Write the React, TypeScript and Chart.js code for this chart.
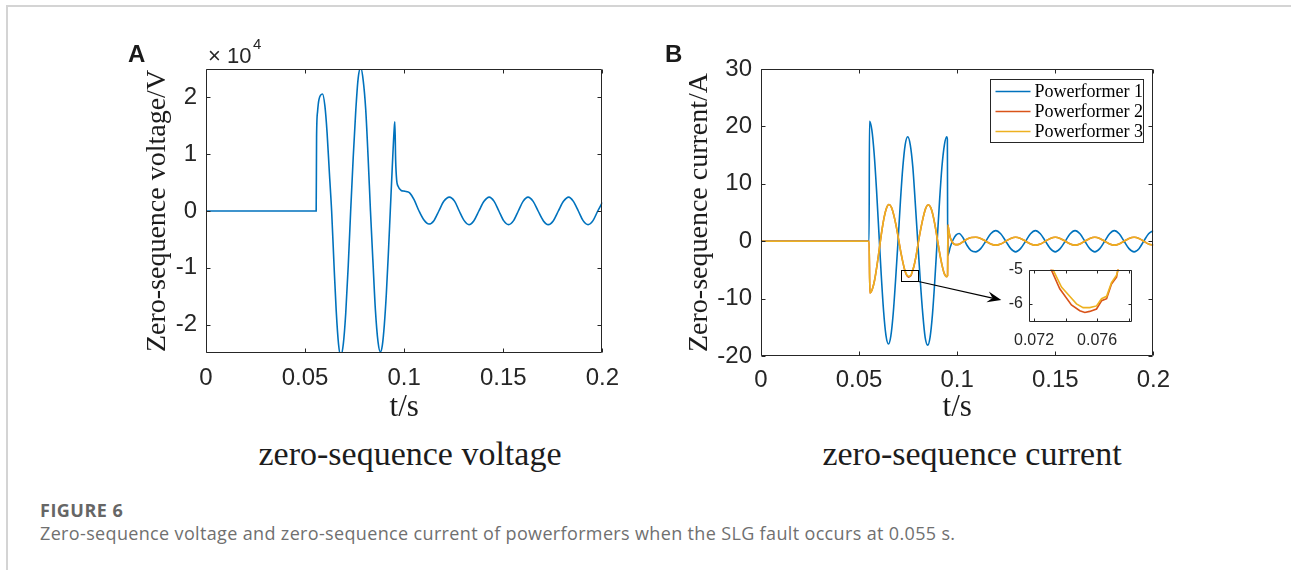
import React, { useEffect, useRef } from 'react';
import { Chart, registerables } from 'chart.js';

Chart.register(...registerables);

// ---------------- Panel A: zero-sequence voltage (V) ----------------
const tVoltage = [
  0, 0.0556, 0.0558, 0.0563, 0.0570, 0.0588, 0.0600, 0.0611, 0.0623, 0.0634, 0.0646, 0.0657, 0.0669, 0.0680,
  0.0693, 0.0705, 0.0718, 0.0730, 0.0743, 0.0756, 0.0768, 0.0781,
  0.0793, 0.0806, 0.0818, 0.0830, 0.0843, 0.0855, 0.0868, 0.0880,
  0.0890, 0.0900, 0.0910, 0.0920, 0.0930, 0.0940, 0.0950, 0.0953,
  0.0957, 0.0962, 0.0970, 0.0985, 0.1000, 0.1015, 0.1030, 0.1050, 0.1075, 0.1100, 0.1125,
  0.1150, 0.1175, 0.1200, 0.1228, 0.1255, 0.1278, 0.1303, 0.1327,
  0.1352, 0.1377, 0.1403, 0.1429, 0.1454, 0.1478, 0.1502, 0.1527,
  0.1552, 0.1576, 0.1600, 0.1625, 0.1651, 0.1676, 0.1702, 0.1727,
  0.1753, 0.1778, 0.1804, 0.1830, 0.1854, 0.1879, 0.1903, 0.1928,
  0.1953, 0.1977, 0.2000,
];
const voltage = [
  0, 0, 13000, 17500, 19600, 20600, 18500, 13800, 6500, 0, -9500, -17500, -23500, -25500,
  -23400, -18100, -9500, 0, 9500, 17800, 23400, 25200,
  23100, 17900, 9500, 0, -9300, -17500, -23000, -24800,
  -23600, -20000, -14600, -7700, 0, 7700, 14600, 15700,
  9000, 5500, 4300, 3600, 3500, 3400, 3100, 2000, 0, -1600, -2300,
  -1700, 0, 1700, 2450, 1700, 0, -1700, -2400,
  -1700, 0, 1700, 2450, 1700, 0, -1700, -2400,
  -1700, 0, 1700, 2450, 1700, 0, -1700, -2400,
  -1700, 0, 1700, 2450, 1700, 0, -1700, -2400,
  -1700, 0, 1500,
];

// ---------------- Panel B: zero-sequence current (A) ----------------
const tPf1 = [
  0, 0.0551, 0.0553, 0.0565, 0.0577, 0.0589, 0.0601, 0.0613, 0.0625, 0.0637, 0.0650,
  0.0662, 0.0674, 0.0686, 0.0699, 0.0711, 0.0723, 0.0735, 0.0748,
  0.0761, 0.0774, 0.0786, 0.0799, 0.0812, 0.0825, 0.0837, 0.0850,
  0.0862, 0.0874, 0.0886, 0.0898, 0.0910, 0.0922, 0.0935, 0.0947, 0.0950, 0.0952,
  0.0965, 0.0980, 0.0995, 0.1010, 0.1030, 0.1050, 0.1070, 0.1095,
  0.1120, 0.1146, 0.1171, 0.1197, 0.1222, 0.1248, 0.1273, 0.1298,
  0.1323, 0.1349, 0.1374, 0.1399, 0.1424, 0.1450, 0.1475, 0.1500,
  0.1525, 0.1551, 0.1576, 0.1601, 0.1626, 0.1651, 0.1676, 0.1702,
  0.1727, 0.1752, 0.1777, 0.1801, 0.1826, 0.1851, 0.1876, 0.1902,
  0.1927, 0.1951, 0.1976, 0.2000,
];
const currentPf1 = [
  0, 0, 20.9, 19.4, 15.2, 8.9, 1.5, -5.9, -12.2, -16.4, -17.9,
  -16.5, -12.6, -6.8, 0.2, 7.1, 12.9, 16.8, 18.2,
  16.8, 12.9, 6.9, 0.0, -6.9, -12.8, -16.8, -18.1,
  -16.7, -12.8, -6.9, 0.0, 6.9, 12.8, 16.8, 18.2, 17.8, -2.5,
  -1.0, 0.3, 1.1, 1.35, 0.6, -0.7, -1.6, -1.86,
  -1.3, 0, 1.3, 1.85, 1.3, 0, -1.3, -1.86,
  -1.3, 0, 1.3, 1.85, 1.3, 0, -1.3, -1.86,
  -1.3, 0, 1.3, 1.85, 1.3, 0, -1.3, -1.86,
  -1.3, 0, 1.3, 1.85, 1.3, 0, -1.3, -1.86,
  -1.3, 0, 1.3, 1.85,
];
const tPf23 = [
  0, 0.0551, 0.0555, 0.0567, 0.0579, 0.0591, 0.0603, 0.0616, 0.0628, 0.0640, 0.0652,
  0.0665, 0.0677, 0.0690, 0.0702, 0.0715, 0.0727, 0.0733, 0.0740, 0.0746, 0.0753, 0.0760, 0.0766, 0.0773, 0.0779,
  0.0791, 0.0803, 0.0816, 0.0829, 0.0841, 0.0854,
  0.0866, 0.0877, 0.0889, 0.0900, 0.0912, 0.0924, 0.0935, 0.0947, 0.0951, 0.0953,
  0.0958, 0.0965, 0.0978, 0.0992, 0.1008, 0.1030, 0.1050, 0.1072, 0.1095,
  0.1120, 0.1146, 0.1171, 0.1197, 0.1222, 0.1248, 0.1273, 0.1298,
  0.1323, 0.1349, 0.1374, 0.1399, 0.1424, 0.1450, 0.1475, 0.1500,
  0.1525, 0.1551, 0.1576, 0.1601, 0.1626, 0.1651, 0.1676, 0.1702,
  0.1727, 0.1752, 0.1777, 0.1801, 0.1826, 0.1851, 0.1876, 0.1902,
  0.1927, 0.1951, 0.1976, 0.2000,
];
const currentPf2 = [
  0, 0, -9.0, -8.4, -6.8, -4.3, -1.4, 1.8, 4.2, 5.8, 6.4,
  5.9, 4.55, 2.5, 0.2, -2.3, -4.25, -5.05, -5.75, -6.1, -6.25, -6.15, -5.88, -5.1, -4.45,
  -2.5, 0.0, 2.4, 4.45, 5.85, 6.35,
  5.8, 4.5, 2.4, 0.1, -2.3, -4.35, -5.7, -6.2, -6.0, 2.8,
  1.7, 0.6, -0.3, -0.6, -0.55, -0.1, 0.35, 0.65, 0.68,
  0.48, 0, -0.48, -0.68, -0.48, 0, 0.48, 0.68,
  0.48, 0, -0.48, -0.68, -0.48, 0, 0.48, 0.68,
  0.48, 0, -0.48, -0.68, -0.48, 0, 0.48, 0.68,
  0.48, 0, -0.48, -0.68, -0.48, 0, 0.48, 0.68,
  0.48, 0, -0.48, -0.68,
];
const currentPf3 = [
  0, 0, -9.0, -8.4, -6.8, -4.3, -1.4, 1.8, 4.2, 5.8, 6.4,
  5.9, 4.55, 2.5, 0.2, -2.3, -4.2, -5.0, -5.65, -5.98, -6.11, -6.06, -5.8, -5.02, -4.4,
  -2.5, 0.0, 2.4, 4.45, 5.85, 6.35,
  5.8, 4.5, 2.4, 0.1, -2.3, -4.35, -5.7, -6.2, -6.0, 2.8,
  1.7, 0.6, -0.3, -0.6, -0.55, -0.1, 0.35, 0.65, 0.68,
  0.48, 0, -0.48, -0.68, -0.48, 0, 0.48, 0.68,
  0.48, 0, -0.48, -0.68, -0.48, 0, 0.48, 0.68,
  0.48, 0, -0.48, -0.68, -0.48, 0, 0.48, 0.68,
  0.48, 0, -0.48, -0.68, -0.48, 0, 0.48, 0.68,
  0.48, 0, -0.48, -0.68,
];

// ---------------- Inset (zoom of the trough near t = 0.075 s) ----------------
const tInsetPf2 = [0.0729, 0.07309, 0.07363, 0.07437, 0.07490, 0.07522, 0.07553, 0.07596, 0.07628, 0.07660, 0.07691, 0.07723, 0.07740];
const insetPf2 = [-4.75, -5.0, -5.56, -6.03, -6.2, -6.25, -6.22, -6.15, -5.91, -5.85, -5.42, -5.22, -4.8];
const tInsetPf3 = [0.0730, 0.07320, 0.07374, 0.07426, 0.07469, 0.07511, 0.07553, 0.07596, 0.07628, 0.07660, 0.07691, 0.07723, 0.07745];
const insetPf3 = [-4.75, -5.0, -5.51, -5.78, -6.0, -6.11, -6.11, -6.06, -5.85, -5.78, -5.38, -5.16, -4.8];

// ---------------- Ticks, labels, annotations ----------------
const xTicks = [0, 0.05, 0.1, 0.15, 0.2];
const voltageTicks = [-20000, -10000, 0, 10000, 20000];
const currentTicks = [-20, -10, 0, 10, 20, 30];
const insetXTicks = [0.072, 0.074, 0.076, 0.078];
const insetXLabels = ['0.072', '', '0.076', ''];
const insetYTicks = [-6, -5];
const seriesNames = ['Powerformer 1', 'Powerformer 2', 'Powerformer 3'];
const seriesColors = ['#0072BD', '#D95319', '#EDB120'];
const zoomBoxT = [0.0713, 0.0799];
const zoomBoxI = [-6.85, -5.05];
const arrowTip = [0.1225, -10.25];

const SANS = "'Liberation Sans', Arial, Helvetica, sans-serif";
const SERIF = "'Liberation Serif', 'Times New Roman', Times, serif";
const AX = '#262626';

const pairs = (t: number[], v: number[]) => t.map((x, i) => ({ x, y: v[i] }));

const matlabBox = {
  id: 'matlabBox',
  beforeDraw(chart: any, _a: any, opts: any) {
    if (!opts.fill) return;
    const { ctx, chartArea: ca } = chart;
    ctx.save();
    ctx.fillStyle = opts.fill;
    ctx.fillRect(ca.left, ca.top, ca.right - ca.left, ca.bottom - ca.top);
    ctx.restore();
  },
  afterDatasetsDraw(chart: any, _a: any, opts: any) {
    const { ctx, chartArea: ca, scales } = chart;
    const len = opts.tickLength || 4;
    const L = Math.round(ca.left) + 0.5;
    const R = Math.round(ca.right) - 0.5;
    const T = Math.round(ca.top) + 0.5;
    const B = Math.round(ca.bottom) - 0.5;
    ctx.save();
    ctx.strokeStyle = AX;
    ctx.lineWidth = 1;
    ctx.beginPath();
    ctx.rect(L, T, R - L, B - T);
    for (const t of scales.x.ticks) {
      const p = Math.round(scales.x.getPixelForValue(t.value)) + 0.5;
      ctx.moveTo(p, B); ctx.lineTo(p, B - len);
      ctx.moveTo(p, T); ctx.lineTo(p, T + len);
    }
    for (const t of scales.y.ticks) {
      const p = Math.round(scales.y.getPixelForValue(t.value)) + 0.5;
      ctx.moveTo(L, p); ctx.lineTo(L + len, p);
      ctx.moveTo(R, p); ctx.lineTo(R - len, p);
    }
    ctx.stroke();
    ctx.restore();
  },
};

const zoomMarker = {
  id: 'zoomMarker',
  afterDatasetsDraw(chart: any) {
    const { ctx, scales: { x, y } } = chart;
    const x0 = Math.round(x.getPixelForValue(zoomBoxT[0])) + 0.5;
    const x1 = Math.round(x.getPixelForValue(zoomBoxT[1])) + 0.5;
    const y0 = Math.round(y.getPixelForValue(zoomBoxI[1])) + 0.5;
    const y1 = Math.round(y.getPixelForValue(zoomBoxI[0])) + 0.5;
    ctx.save();
    ctx.strokeStyle = '#000';
    ctx.lineWidth = 1;
    ctx.strokeRect(x0, y0, x1 - x0, y1 - y0);
    const tx = x.getPixelForValue(arrowTip[0]);
    const ty = y.getPixelForValue(arrowTip[1]);
    const ang = Math.atan2(ty - y1, tx - x1);
    const c = Math.cos(ang), s = Math.sin(ang);
    const hl = 14, hw = 5.5, notch = 9;
    ctx.lineWidth = 1.2;
    ctx.beginPath();
    ctx.moveTo(x1, y1);
    ctx.lineTo(tx - notch * c, ty - notch * s);
    ctx.stroke();
    ctx.fillStyle = '#000';
    ctx.beginPath();
    ctx.moveTo(tx, ty);
    ctx.lineTo(tx - hl * c - hw * s, ty - hl * s + hw * c);
    ctx.lineTo(tx - notch * c, ty - notch * s);
    ctx.lineTo(tx - hl * c + hw * s, ty - hl * s - hw * c);
    ctx.closePath();
    ctx.fill();
    ctx.restore();
  },
};

const boxLegend = {
  id: 'boxLegend',
  afterDatasetsDraw(chart: any) {
    const { ctx, chartArea: ca } = chart;
    const w = 153, h = 63;
    const left = Math.round(ca.right - 10 - w) + 0.5;
    const top = Math.round(ca.top + 10) + 0.5;
    ctx.save();
    ctx.fillStyle = '#fff';
    ctx.fillRect(left, top, w, h);
    ctx.strokeStyle = AX;
    ctx.lineWidth = 1;
    ctx.strokeRect(left, top, w, h);
    ctx.font = `18px ${SERIF}`;
    ctx.textBaseline = 'middle';
    ctx.textAlign = 'left';
    chart.data.datasets.forEach((d: any, i: number) => {
      const yy = top + 12 + i * 20;
      ctx.strokeStyle = d.borderColor;
      ctx.lineWidth = 1.5;
      ctx.beginPath();
      ctx.moveTo(left + 5, yy);
      ctx.lineTo(left + 40, yy);
      ctx.stroke();
      ctx.fillStyle = '#000';
      ctx.fillText(d.label, left + 44, yy + 0.5);
    });
    ctx.restore();
  },
};

const tickFont = (size: number) => ({ family: SANS, size });

function mainX(height: number, pad: number) {
  return {
    type: 'linear',
    min: 0,
    max: 0.2,
    afterBuildTicks: (s: any) => { s.ticks = xTicks.map((v) => ({ value: v })); },
    afterFit: (s: any) => { s.height = height; },
    grid: { display: false, drawTicks: false },
    border: { display: false },
    ticks: { padding: pad, autoSkip: false, maxRotation: 0, color: AX, font: tickFont(24), callback: (v: any) => String(v) },
    title: { display: true, text: 't/s', color: '#1c1c1c', font: { family: SERIF, size: 31 }, padding: { top: 0, bottom: 4 } },
  };
}

function mainY(min: number, max: number, ticks: number[], width: number, title: string, titlePad: number, fmt: (v: number) => string) {
  return {
    type: 'linear',
    min,
    max,
    afterBuildTicks: (s: any) => { s.ticks = ticks.map((v) => ({ value: v })); },
    afterFit: (s: any) => { s.width = width; },
    grid: { display: false, drawTicks: false },
    border: { display: false },
    ticks: { padding: 9, autoSkip: false, color: AX, font: tickFont(24), callback: (v: any) => fmt(v) },
    title: { display: true, text: title, color: '#1c1c1c', font: { family: SERIF, size: 28 }, padding: { top: titlePad, bottom: 0 } },
  };
}

const line = (label: string, data: any[], color: string, order: number, smooth = true) => ({
  label,
  data,
  borderColor: color,
  backgroundColor: color,
  borderWidth: 1.6,
  pointRadius: 0,
  fill: false,
  order,
  cubicInterpolationMode: smooth ? 'monotone' : 'default',
  tension: 0,
});

export default function App() {
  const aRef = useRef<HTMLCanvasElement>(null);
  const bRef = useRef<HTMLCanvasElement>(null);
  const cRef = useRef<HTMLCanvasElement>(null);

  useEffect(() => {
    const common = {
      responsive: false,
      maintainAspectRatio: false,
      animation: false,
      events: [],
    };
    const chartA = new Chart(aRef.current as HTMLCanvasElement, {
      type: 'line',
      data: { datasets: [line('Zero-sequence voltage', pairs(tVoltage, voltage), seriesColors[0], 1)] as any },
      options: {
        ...common,
        layout: { padding: { left: 0, top: 39, right: 17, bottom: 0 } },
        plugins: { legend: { display: false }, tooltip: { enabled: false }, matlabBox: { tickLength: 4 } } as any,
        scales: {
          x: mainX(77, 11) as any,
          y: mainY(-25000, 25000, voltageTicks, 96, 'Zero-sequence voltage/V', 31, (v) => String(v / 10000)) as any,
        },
      } as any,
      plugins: [matlabBox as any],
    });

    const chartB = new Chart(bRef.current as HTMLCanvasElement, {
      type: 'line',
      data: {
        datasets: [
          line(seriesNames[0], pairs(tPf1, currentPf1), seriesColors[0], 3),
          line(seriesNames[1], pairs(tPf23, currentPf2), seriesColors[1], 2),
          line(seriesNames[2], pairs(tPf23, currentPf3), seriesColors[2], 1),
        ] as any,
      },
      options: {
        ...common,
        layout: { padding: { left: 0, top: 39, right: 23, bottom: 0 } },
        plugins: { legend: { display: false }, tooltip: { enabled: false }, matlabBox: { tickLength: 4 } } as any,
        scales: {
          x: mainX(74, 10) as any,
          y: mainY(-20, 30, currentTicks, 121, 'Zero-sequence current/A', 42.5, (v) => String(v)) as any,
        },
      } as any,
      plugins: [matlabBox as any, zoomMarker as any, boxLegend as any],
    });

    const chartC = new Chart(cRef.current as HTMLCanvasElement, {
      type: 'line',
      data: {
        datasets: [
          line(seriesNames[1], pairs(tInsetPf2, insetPf2), seriesColors[1], 2, false),
          line(seriesNames[2], pairs(tInsetPf3, insetPf3), seriesColors[2], 1, false),
        ] as any,
      },
      options: {
        ...common,
        layout: { padding: { left: 0, top: 10, right: 18, bottom: 0 } },
        plugins: { legend: { display: false }, tooltip: { enabled: false }, matlabBox: { tickLength: 3, fill: '#ffffff' } } as any,
        scales: {
          x: {
            type: 'linear',
            min: 0.07168,
            max: 0.07821,
            afterBuildTicks: (s: any) => { s.ticks = insetXTicks.map((v) => ({ value: v })); },
            afterFit: (s: any) => { s.height = 32; },
            grid: { display: false, drawTicks: false },
            border: { display: false },
            ticks: { padding: 9, autoSkip: false, maxRotation: 0, color: AX, font: tickFont(16), callback: (_v: any, i: number) => insetXLabels[i] },
          },
          y: {
            type: 'linear',
            min: -6.53,
            max: -5,
            afterBuildTicks: (s: any) => { s.ticks = insetYTicks.map((v) => ({ value: v })); },
            afterFit: (s: any) => { s.width = 39; },
            grid: { display: false, drawTicks: false },
            border: { display: false },
            ticks: { padding: 6, autoSkip: false, color: AX, font: tickFont(16), callback: (v: any) => String(v) },
          },
        } as any,
      } as any,
      plugins: [matlabBox as any],
    });

    return () => {
      chartA.destroy();
      chartB.destroy();
      chartC.destroy();
    };
  }, []);

  const abs = (left: number, top: number, extra: any = {}) => ({ position: 'absolute' as const, left, top, ...extra });

  return (
    <div style={{ position: 'absolute', left: 0, top: 0, width: 1291, height: 570, background: '#fff', overflow: 'hidden' }}>
      <div style={abs(6, 5, { width: 1285, height: 2, background: '#d4d4d4' })} />
      <div style={abs(6, 5, { width: 2, height: 565, background: '#d4d4d4' })} />

      <canvas ref={aRef} width={520} height={400} style={abs(110, 30, { width: 520, height: 400 })} />
      <canvas ref={bRef} width={540} height={400} style={abs(640, 30, { width: 540, height: 400 })} />
      <canvas ref={cRef} width={160} height={100} style={abs(990, 254, { width: 160, height: 100 })} />

      <div style={abs(128, 41.5, { font: `bold 24px ${SANS}`, lineHeight: '24px', color: '#1a1a1a' })}>A</div>
      <div style={abs(665, 41.5, { font: `bold 24px ${SANS}`, lineHeight: '24px', color: '#1a1a1a' })}>B</div>

      <div style={abs(208, 44.5, { font: `22px ${SANS}`, lineHeight: '22px', color: AX })}>×</div>
      <div style={abs(227, 44.5, { font: `22px ${SANS}`, lineHeight: '22px', color: AX })}>10</div>
      <div style={abs(253, 36, { font: `15px ${SANS}`, lineHeight: '15px', color: AX })}>4</div>

      <div style={abs(210, 436.5, { width: 400, textAlign: 'center', font: `34px ${SERIF}`, lineHeight: '34px', color: '#1c1c1c', whiteSpace: 'nowrap' })}>zero-sequence voltage</div>
      <div style={abs(772, 436.5, { width: 400, textAlign: 'center', font: `34px ${SERIF}`, lineHeight: '34px', color: '#1c1c1c', whiteSpace: 'nowrap' })}>zero-sequence current</div>

      <div style={abs(40, 501, { font: `bold 18px 'Open Sans', sans-serif`, lineHeight: '18px', letterSpacing: '0.5px', color: '#666666', whiteSpace: 'nowrap' })}>FIGURE 6</div>
      <div style={abs(40, 524, { font: `18px 'Open Sans', sans-serif`, lineHeight: '18px', letterSpacing: '0.35px', color: '#707070', whiteSpace: 'nowrap' })}>
        Zero-sequence voltage and zero-sequence current of powerformers when the SLG fault occurs at 0.055 s.
      </div>
    </div>
  );
}
